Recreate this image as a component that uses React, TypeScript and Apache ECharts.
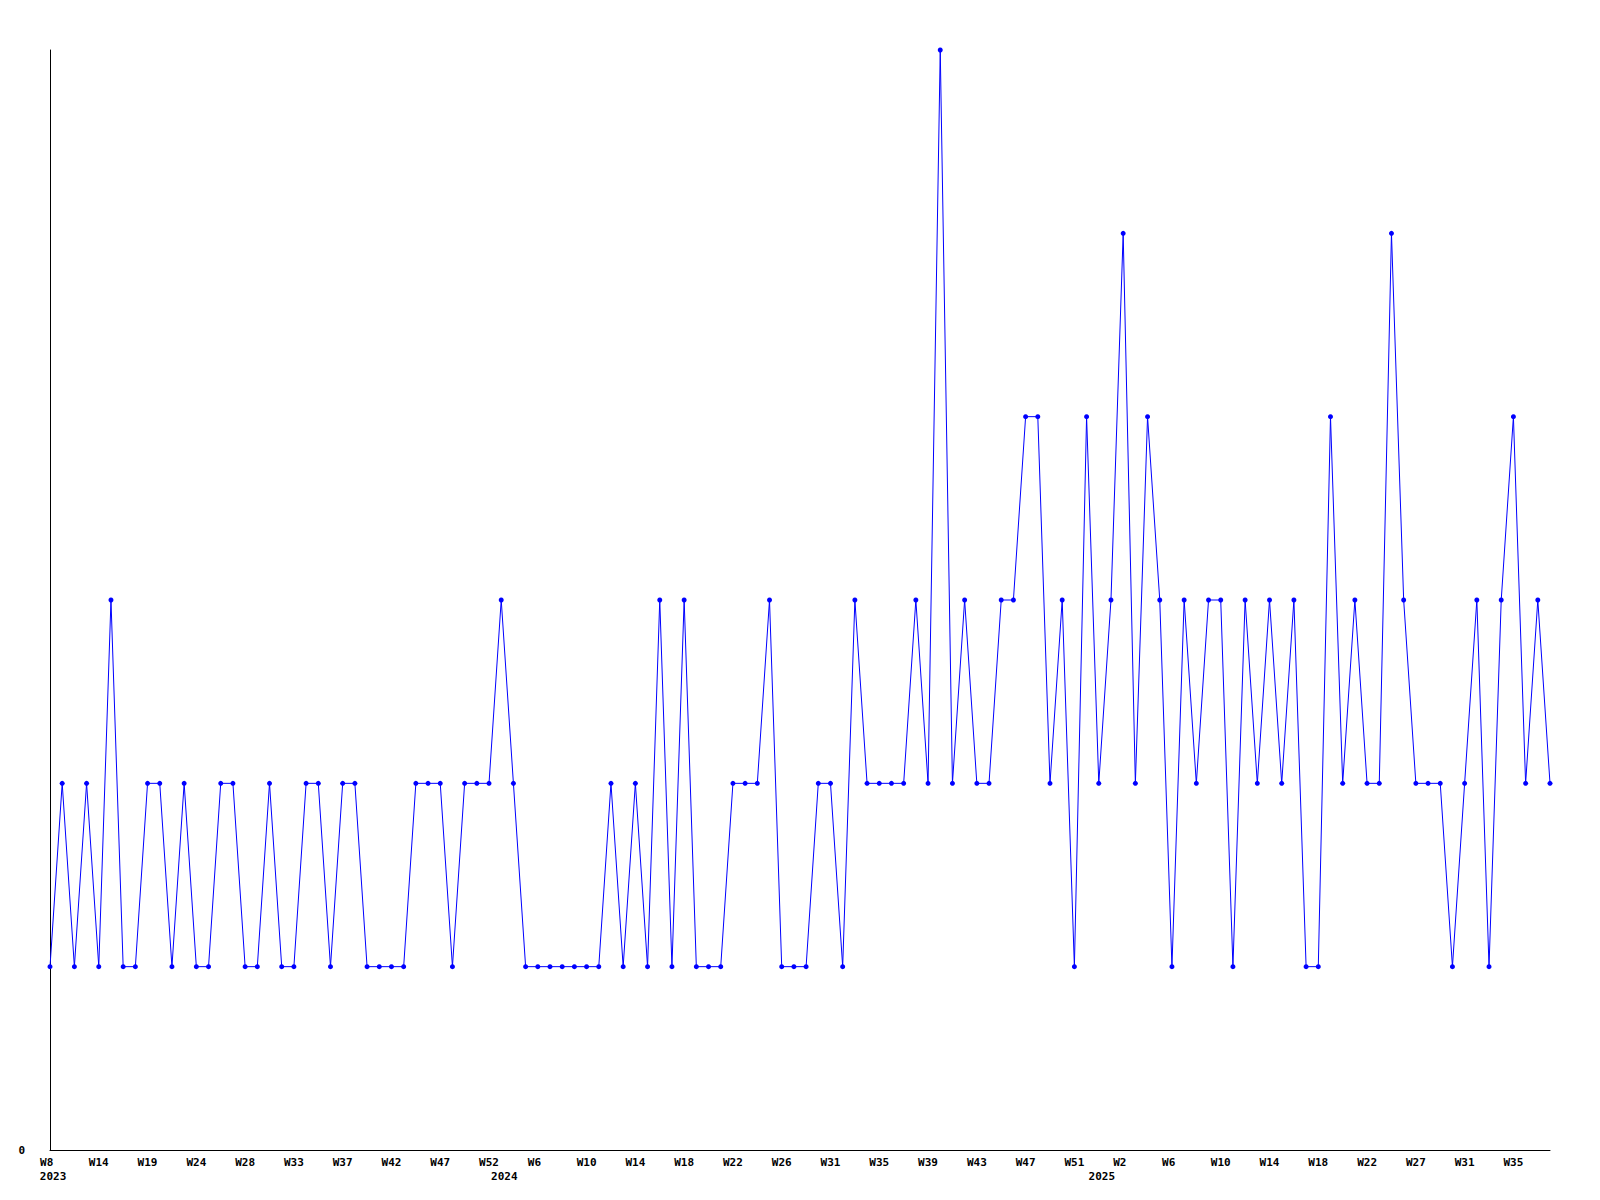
import React, { useEffect, useRef } from "react";
import * as echarts from "echarts";

// Weekly-ish series values (level counts)
const values: number[] = [
  1, 2, 1, 2, 1, 3, 1, 1, 2, 2, 1, 2, 1, 1, 2, 2, 1, 1, 2, 1,
  1, 2, 2, 1, 2, 2, 1, 1, 1, 1, 2, 2, 2, 1, 2, 2, 2, 3, 2, 1,
  1, 1, 1, 1, 1, 1, 2, 1, 2, 1, 3, 1, 3, 1, 1, 1, 2, 2, 2, 3,
  1, 1, 1, 2, 2, 1, 3, 2, 2, 2, 2, 3, 2, 6, 2, 3, 2, 2, 3, 3,
  4, 4, 2, 3, 1, 4, 2, 3, 5, 2, 4, 3, 1, 3, 2, 3, 3, 1, 3, 2,
  3, 2, 3, 1, 1, 4, 2, 3, 2, 2, 5, 3, 2, 2, 2, 1, 2, 3, 1, 3,
  4, 2, 3, 2,
];

// Tick labels shown at every 4th point
const weekLabels: string[] = [
  "W8", "W14", "W19", "W24", "W28", "W33", "W37", "W42", "W47", "W52",
  "W6", "W10", "W14", "W18", "W22", "W26", "W31", "W35", "W39", "W43",
  "W47", "W51", "W2", "W6", "W10", "W14", "W18", "W22", "W27", "W31",
  "W35",
];

// Year labels and the (fractional) point position where they sit
const yearNames: string[] = ["2023", "2024", "2025"];
const yearPos: number[] = [0.25, 37.25, 86.25];

const categories = values.map((_, i) => `p${i}`);

const FONT = "DejaVu Sans Mono";

export default function App() {
  const ref = useRef<HTMLDivElement>(null);

  useEffect(() => {
    if (!ref.current) return;
    const chart = echarts.init(ref.current, null, { renderer: "svg" });
    const idxOf = (v: string) => parseInt(String(v).slice(1), 10);
    const labelStyle = {
      color: "#000",
      fontFamily: FONT,
      fontWeight: "bold",
      fontSize: 11,
    };
    chart.setOption({
      animation: false,
      backgroundColor: "#ffffff",
      grid: { left: 50, right: 50, top: 50, bottom: 50, containLabel: false },
      xAxis: [
        {
          type: "category",
          data: categories,
          boundaryGap: false,
          axisLine: { show: true, lineStyle: { color: "#000", width: 1 } },
          axisTick: { show: false },
          splitLine: { show: false },
          axisLabel: {
            ...labelStyle,
            interval: 3,
            margin: 7,
            formatter: (v: string) => {
              const i = idxOf(v);
              if (i % 4 !== 0) return "";
              const t = weekLabels[i / 4] ?? "";
              return t.length < 3 ? t + "\u00a0" : t;
            },
          },
        },
        {
          type: "value",
          min: 0,
          max: values.length - 1,
          position: "bottom",
          axisLine: { show: false },
          axisTick: { show: false },
          splitLine: { show: false },
          axisLabel: {
            ...labelStyle,
            margin: 21,
            customValues: yearPos,
            formatter: (v: number) => {
              let best = 0;
              yearPos.forEach((p, k) => {
                if (Math.abs(p - v) < Math.abs(yearPos[best] - v)) best = k;
              });
              return yearNames[best];
            },
          },
        },
      ],
      yAxis: {
        type: "value",
        min: 0,
        max: 6,
        interval: 6,
        axisLine: { show: true, lineStyle: { color: "#000", width: 1 } },
        axisTick: { show: false },
        splitLine: { show: false },
        axisLabel: {
          ...labelStyle,
          margin: 25,
          formatter: (v: number) => (v === 0 ? "0" : ""),
        },
      },
      series: [
        {
          type: "line",
          data: values,
          xAxisIndex: 0,
          symbol: "circle",
          symbolSize: 5,
          showSymbol: true,
          itemStyle: { color: "#0000ff" },
          lineStyle: { color: "#0000ff", width: 1 },
        },
      ],
    });
    return () => chart.dispose();
  }, []);

  return (
    <div
      ref={ref}
      style={{ position: "fixed", left: 0, top: 0, width: 1600, height: 1200 }}
    />
  );
}
